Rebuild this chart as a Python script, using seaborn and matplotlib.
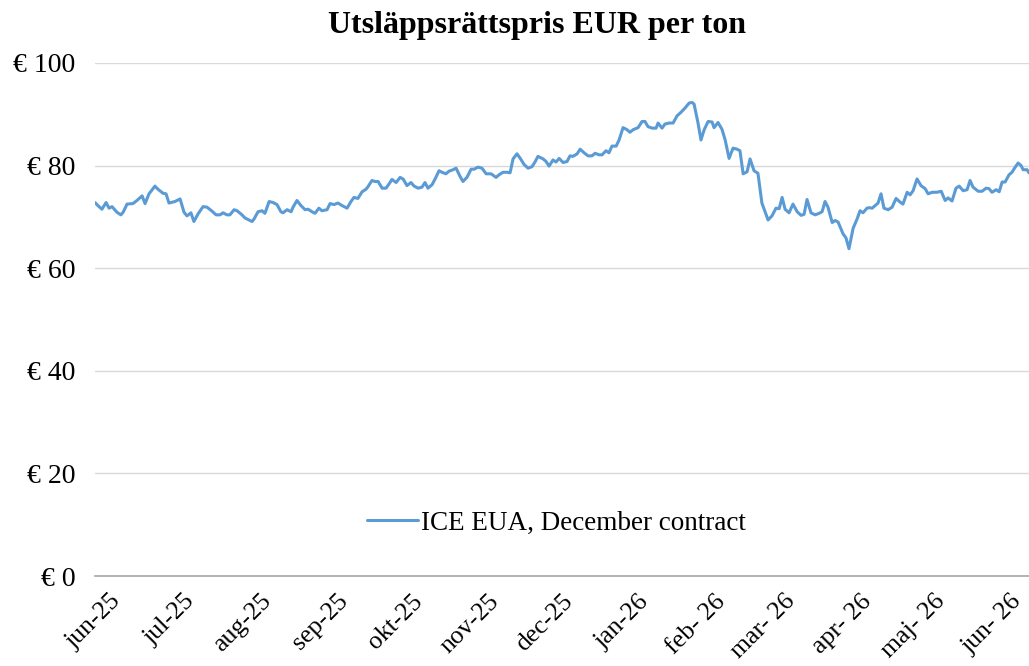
import pandas as pd
import matplotlib.pyplot as plt
from matplotlib.ticker import StrMethodFormatter
from matplotlib.transforms import ScaledTranslation
import seaborn as sns

# Start of the series and day offsets
start_date = "2025-05-21"
day_offsets = [
    0.0, 1.2, 2.8, 4.5, 5.7, 6.9, 8.9, 10.5, 11.4, 13.0, 15.4, 17.0, 19.1, 20.3, 21.9,
    24.3, 25.5, 27.6, 28.8, 30.0, 32.4, 34.5, 36.1, 37.3, 38.9, 40.1, 41.8, 43.8, 45.4,
    47.5, 49.1, 50.7, 51.9, 53.5, 54.7, 56.4, 57.6, 59.6, 60.8, 62.4,
    63.7, 64.5, 66.1, 67.7, 68.9, 70.6, 72.2, 73.8, 75.4, 76.2, 77.9, 79.5, 80.3, 81.9,
    83.5, 85.2, 86.4, 88.0, 89.2, 90.8, 92.0, 94.1, 95.3, 96.9, 98.5, 100.2, 102.2, 103.8,
    105.0, 106.6, 108.3, 109.9, 110.7, 112.3, 113.5, 114.8, 116.4, 118.0, 119.2, 120.4,
    122.1, 123.7,
    124.9, 126.5, 128.1, 129.4, 131.0, 132.6, 133.8, 135.0, 136.7, 137.9, 139.5, 140.7,
    142.3, 143.5, 145.2, 146.4, 148.0, 149.2, 150.8, 152.5, 153.7, 155.3, 156.9, 158.6,
    160.6, 162.6, 163.8, 165.4, 167.1, 168.3, 169.5, 171.1, 172.3, 174.0, 175.6, 177.2,
    178.4, 179.6, 181.7, 182.9, 184.1, 185.7, 186.9,
    188.2, 189.8, 191.4, 192.6, 193.8, 195.5, 196.7, 198.3, 199.9, 201.5, 202.8, 204.4,
    205.6, 207.2, 208.4, 209.6, 211.3, 212.5, 214.1, 215.7, 216.9, 218.2, 220.2, 221.8,
    223.0, 224.2, 225.9, 227.5, 228.3, 229.9, 231.1, 232.8, 234.4, 236.0, 237.6, 239.2,
    240.9, 242.1, 242.9, 244.5, 245.7, 247.0, 248.6, 250.2,
    251.0, 252.6, 254.2, 255.5, 257.1, 258.7, 260.3, 261.5, 262.8, 264.4, 265.6, 267.2,
    268.8, 270.4, 271.7, 272.9, 274.5, 276.1, 277.4, 278.6, 279.8, 281.4, 283.0, 284.7,
    286.3, 287.5, 288.7, 290.3, 292.0, 293.6, 294.8, 296.0, 297.2, 298.9, 300.1, 301.3,
    303.3, 304.5, 305.7, 307.4, 309.0, 310.2, 311.4, 313.0, 313.9,
    315.1, 316.3, 317.5, 318.7, 319.9, 321.6, 323.2, 324.8, 326.4, 327.6, 329.3, 330.5,
    331.7, 333.3, 334.9, 336.6, 337.8, 339.4, 341.4, 343.1, 344.7, 345.9, 347.5, 349.1,
    350.4, 352.0, 353.6, 354.8, 356.0, 358.1, 359.7, 361.3, 362.5, 363.7, 365.4, 366.6,
    367.8, 369.0, 370.6, 371.8, 373.1, 374.3, 375.5, 376.3, 377.9, 378.7,
]

# ICE EUA December contract, EUR per ton
price = [
    72.8, 72.2, 71.5, 72.8, 71.7, 72.0, 70.9, 70.4, 70.9, 72.5, 72.6, 73.2, 74.1, 72.6, 74.5,
    76.0, 75.4, 74.6, 74.5, 72.7, 73.0, 73.5, 70.9, 70.2, 70.8, 69.1, 70.6, 72.0, 71.9,
    71.1, 70.4, 70.4, 70.8, 70.4, 70.4, 71.4, 71.2, 70.4, 69.8, 69.4,
    69.1, 69.6, 71.0, 71.2, 70.7, 73.0, 72.8, 72.4, 71.0, 70.8, 71.4, 71.0, 71.9, 73.2,
    72.2, 71.4, 71.5, 71.0, 70.7, 71.7, 71.2, 71.4, 72.6, 72.4, 72.7, 72.2, 71.7, 73.0,
    73.8, 73.6, 74.9, 75.4, 75.9, 77.1, 76.9, 76.9, 75.6, 75.6, 76.4, 77.3,
    76.7, 77.7,
    77.4, 76.1, 76.7, 76.0, 75.6, 75.8, 76.7, 75.6, 76.3, 77.4, 79.0, 78.7,
    78.4, 78.9, 79.2, 79.5, 77.9, 76.9, 77.7, 79.3, 79.3, 79.7, 79.5, 78.4,
    78.4, 77.7, 78.2, 78.7, 78.7, 78.6, 81.3, 82.3, 81.5, 80.2, 79.5, 79.8,
    80.7, 81.8, 81.3, 80.8, 79.9, 81.1, 80.7,
    81.4, 80.6, 80.8, 81.9, 81.8, 82.3, 83.2, 82.5, 81.9, 81.9, 82.4, 82.1,
    82.1, 82.9, 82.5, 83.8, 83.8, 85.0, 87.4, 87.0, 86.5, 87.0, 87.4, 88.6,
    88.6, 87.6, 87.3, 87.3, 88.3, 87.3, 88.1, 88.3, 88.3, 89.7, 90.4, 91.2,
    92.2, 92.3, 92.0, 88.3, 85.0, 87.0, 88.6, 88.5,
    87.4, 88.4, 87.1, 85.0, 81.4, 83.4, 83.2, 82.9, 78.4, 78.8, 81.3, 79.0,
    78.5, 72.7, 71.0, 69.4, 70.2, 71.7, 71.6, 73.8, 71.5, 70.8, 72.5, 71.0,
    70.3, 70.5, 73.4, 70.8, 70.4, 70.7, 71.0, 73.0, 71.9, 68.9, 69.3, 69.0,
    66.7, 65.9, 63.8, 67.8, 69.6, 71.2, 70.8, 71.7, 71.8,
    71.7, 72.2, 72.7, 74.5, 71.7, 71.4, 71.9, 73.6, 72.9, 72.5, 74.8, 74.3,
    75.1, 77.4, 76.1, 75.5, 74.5, 74.8, 74.8, 75.0, 73.2, 73.7, 73.1, 75.6,
    76.0, 75.1, 75.3, 77.1, 75.8, 75.0, 75.0, 75.6, 75.5, 74.8, 75.3, 74.9,
    76.8, 76.8, 78.2, 78.7, 79.7, 80.5, 80.0, 79.2, 79.2, 78.6,
]

# Swedish month labels as on the original axis
month_labels = ["jun-25", "jul-25", "aug-25", "sep-25", "okt-25", "nov-25", "dec-25",
                "jan-26", "feb- 26", "mar- 26", "apr- 26", "maj- 26", "jun- 26"]

series_name = "ICE EUA, December contract"

dates = pd.Timestamp(start_date) + pd.to_timedelta(day_offsets, unit="D")
df = pd.DataFrame({"date": dates, "price": price})

sns.set_theme(style="whitegrid")
plt.rcParams["font.family"] = ["Liberation Serif", "DejaVu Serif"]
plt.rcParams["text.color"] = "black"

fig = plt.figure(figsize=(10.29, 6.66), dpi=100)
ax = fig.add_axes([95 / 1029, 1 - 576 / 666, 1 - 95 / 1029, (576 - 63) / 666])

sns.lineplot(data=df, x="date", y="price", ax=ax, color="#5B9BD5",
             linewidth=2.2, label=series_name)

ax.set_ylim(0, 100)
ax.set_xlim(dates[0], dates[-1])
ax.set_yticks([0, 20, 40, 60, 80, 100])
ax.yaxis.set_major_formatter(StrMethodFormatter("€ {x:.0f}"))

month_ticks = pd.date_range("2025-06-01", periods=len(month_labels), freq="MS")
ax.set_xticks(month_ticks)
# baseline anchor keeps the rotated label's right end on the tick
ax.set_xticklabels(month_labels, rotation=45, ha="right", va="baseline",
                   rotation_mode="anchor")
nudge = ScaledTranslation(0.04, 0, fig.dpi_scale_trans)
for lbl in ax.get_xticklabels():
    lbl.set_transform(lbl.get_transform() + nudge)

ax.tick_params(axis="y", labelsize=20, pad=14, length=0, labelcolor="black")
ax.tick_params(axis="x", labelsize=18.5, pad=19, length=0, labelcolor="black")
ax.set_xlabel("")
ax.set_ylabel("")

ax.grid(axis="y", color="#D9D9D9", linewidth=1.0)
ax.grid(axis="x", visible=False)
for side in ["top", "right", "left"]:
    ax.spines[side].set_visible(False)
ax.spines["bottom"].set_color("#A6A6A6")
ax.spines["bottom"].set_linewidth(1.2)
ax.set_facecolor("white")

leg = ax.legend(loc="center", bbox_to_anchor=(0.494, 0.103), frameon=False,
                fontsize=19.5, handlelength=1.9, handletextpad=0.1)
for t in leg.get_texts():
    t.set_color("black")

fig.suptitle("Utsläppsrättspris EUR per ton", x=0.522, y=0.983, va="top",
             fontsize=23, fontweight="bold", color="black")

fig.savefig("out.png", dpi=100, facecolor="white")
